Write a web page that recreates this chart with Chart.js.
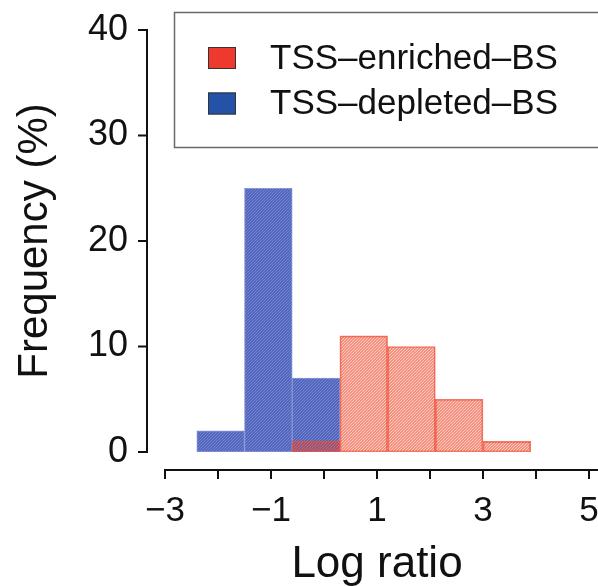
<!DOCTYPE html>
<html>
<head>
<meta charset="utf-8">
<script src="https://cdn.jsdelivr.net/npm/chart.js@4/dist/chart.umd.min.js"></script>
<style>
  html, body { margin: 0; padding: 0; background: #ffffff; }
  #wrap { width: 598px; height: 587px; position: relative; }
</style>
</head>
<body>
<div id="wrap"><canvas id="hist" width="598" height="587"></canvas></div>
<script>
// Histogram of log ratios, bin width 0.9
const seriesNames = ['TSS\u2013enriched\u2013BS', 'TSS\u2013depleted\u2013BS'];
const enrichedBinCenters = [-0.15, 0.75, 1.65, 2.55, 3.45];
const enrichedFreq = [1, 11, 10, 5, 1];
const depletedBinCenters = [-1.95, -1.05, -0.15];
const depletedFreq = [2, 25, 7];
const xTickValues = [-3, -2, -1, 0, 1, 2, 3, 4, 5];
const yTickValues = [0, 10, 20, 30, 40];

const FONT = '"Liberation Sans", Arial, sans-serif';

// fine diagonal hatching used as bar fill
function hatch(base, line) {
  const c = document.createElement('canvas');
  c.width = 6; c.height = 6;
  const g = c.getContext('2d');
  g.fillStyle = base;
  g.fillRect(0, 0, 6, 6);
  g.fillStyle = line;
  for (let x = 0; x < 6; x++) {
    for (let y = 0; y < 6; y++) {
      if ((x + y) % 3 === 0) {
        g.clearRect(x, y, 1, 1);
        g.fillRect(x, y, 1, 1);
      }
    }
  }
  return g.createPattern(c, 'repeat');
}

const redFill = hatch('rgba(238,62,32,0.58)', 'rgba(240,90,60,0.30)');
const blueFill = hatch('rgb(84,102,188)', 'rgb(112,132,208)');

const toPoints = (xs, ys) => xs.map((x, i) => ({ x: x, y: ys[i] }));

// detached axis lines with outward ticks, plus a boxed legend
const framePlugin = {
  id: 'frame',
  afterDraw(chart) {
    const { ctx, chartArea } = chart;
    const xs = chart.scales.x, ys = chart.scales.y;
    ctx.save();
    ctx.strokeStyle = '#111';
    ctx.lineWidth = 2;
    const ax = chartArea.left - 18;
    const ay = chartArea.bottom + 18;
    ctx.beginPath();
    ctx.moveTo(ax, ys.getPixelForValue(yTickValues[yTickValues.length - 1]));
    ctx.lineTo(ax, ys.getPixelForValue(yTickValues[0]));
    yTickValues.forEach(v => {
      const p = ys.getPixelForValue(v);
      ctx.moveTo(ax - 9, p);
      ctx.lineTo(ax + 1, p);
    });
    ctx.moveTo(xs.getPixelForValue(xTickValues[0]), ay);
    ctx.lineTo(xs.getPixelForValue(xTickValues[xTickValues.length - 1]) + 10, ay);
    xTickValues.forEach(v => {
      const p = xs.getPixelForValue(v);
      ctx.moveTo(p, ay - 1);
      ctx.lineTo(p, ay + 9);
    });
    ctx.stroke();

    // legend
    ctx.strokeStyle = '#6a6a6a';
    ctx.lineWidth = 1.5;
    ctx.beginPath();
    ctx.moveTo(620, 12.5);
    ctx.lineTo(174.5, 12.5);
    ctx.lineTo(174.5, 147.5);
    ctx.lineTo(620, 147.5);
    ctx.stroke();
    const swatches = ['#ee3a2e', '#2352a6'];
    const rowsY = [58, 103.5];
    ctx.font = '35px ' + FONT;
    ctx.textBaseline = 'middle';
    ctx.textAlign = 'left';
    seriesNames.forEach((name, i) => {
      ctx.fillStyle = swatches[i];
      ctx.fillRect(208, rowsY[i] - 11, 28, 22);
      ctx.strokeStyle = '#333';
      ctx.lineWidth = 1;
      ctx.strokeRect(208.5, rowsY[i] - 10.5, 27, 21);
      ctx.fillStyle = '#111';
      ctx.fillText(name, 270, rowsY[i] + 1);
    });
    ctx.restore();
  }
};

new Chart(document.getElementById('hist'), {
  type: 'bar',
  data: {
    datasets: [
      {
        label: seriesNames[0],
        data: toPoints(enrichedBinCenters, enrichedFreq),
        backgroundColor: redFill,
        borderColor: 'rgba(240,75,50,0.75)',
        borderWidth: 1,
        borderSkipped: false
      },
      {
        label: seriesNames[1],
        data: toPoints(depletedBinCenters, depletedFreq),
        backgroundColor: blueFill,
        borderColor: 'rgba(120,140,215,0.9)',
        borderWidth: 1,
        borderSkipped: false
      }
    ]
  },
  options: {
    responsive: false,
    animation: false,
    events: [],
    grouped: false,
    barPercentage: 1,
    categoryPercentage: 1,
    layout: { padding: { top: 30, right: 9, left: 0, bottom: 0 } },
    plugins: {
      legend: { display: false },
      tooltip: { enabled: false }
    },
    scales: {
      x: {
        type: 'linear',
        offset: false,
        min: -3,
        max: 5,
        grid: { display: false, drawTicks: false, offset: false },
        border: { display: false },
        afterBuildTicks: s => { s.ticks = xTickValues.map(v => ({ value: v })); },
        afterFit: s => { s.height = 135; s.paddingRight = 0; s.paddingLeft = 0; },
        ticks: {
          autoSkip: false,
          maxRotation: 0,
          padding: 38,
          color: '#111',
          font: { family: FONT, size: 35 },
          callback: v => (Math.abs(v) % 2 === 1 ? (v < 0 ? '\u2212' + Math.abs(v) : String(v)) : '')
        },
        title: {
          display: true,
          text: 'Log ratio',
          color: '#111',
          padding: 0,
          font: { family: FONT, size: 44, lineHeight: 1 }
        }
      },
      y: {
        min: 0,
        max: 40,
        grid: { display: false, drawTicks: false },
        border: { display: false },
        afterBuildTicks: s => { s.ticks = yTickValues.map(v => ({ value: v })); },
        afterFit: s => { s.width = 165; s.paddingTop = 0; s.paddingBottom = 0; },
        ticks: {
          padding: 37,
          color: '#111',
          font: { family: FONT, size: 36 }
        },
        title: {
          display: true,
          text: 'Frequency (%)',
          color: '#111',
          padding: { top: 14, bottom: 0 },
          font: { family: FONT, size: 42, lineHeight: 1 }
        }
      }
    }
  },
  plugins: [framePlugin]
});
</script>
</body>
</html>
